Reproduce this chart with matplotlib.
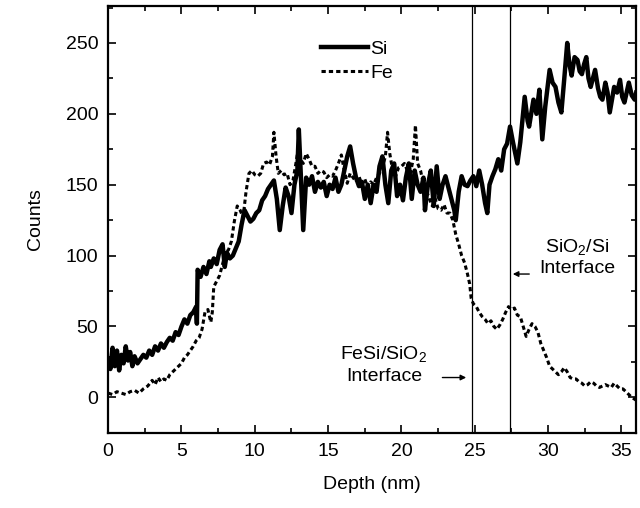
import matplotlib
matplotlib.use("Agg")
import matplotlib.pyplot as plt

plt.rcParams["font.family"] = ["Liberation Sans", "DejaVu Sans"]
plt.rcParams["mathtext.default"] = "regular"

# Si depth profile (solid)
si_depth = [0.0, 0.15, 0.3, 0.45, 0.6, 0.75, 0.9, 1.05, 1.2, 1.35, 1.5, 1.65, 1.8, 2.0, 2.2, 2.4,
            2.6, 2.8, 3.0, 3.2, 3.4, 3.6, 3.8, 4.0, 4.2, 4.4, 4.6, 4.8, 5.0, 5.2, 5.4, 5.6, 5.8,
            6.0, 6.05, 6.1, 6.3, 6.5, 6.7, 6.9, 7.0, 7.2, 7.4, 7.6, 7.8, 7.95, 8.1, 8.3, 8.5,
            8.7, 8.9, 9.1, 9.3, 9.5, 9.7, 9.9, 10.1, 10.3, 10.5, 10.7, 10.9, 11.1, 11.3, 11.5,
            11.7, 11.9, 12.1, 12.3, 12.5, 12.7, 12.9, 13.0, 13.1, 13.3, 13.5, 13.7, 13.9, 14.1,
            14.3, 14.5, 14.7, 14.9, 15.1, 15.3, 15.5, 15.7, 15.9, 16.1, 16.3, 16.5, 16.7, 16.9,
            17.1, 17.3, 17.5, 17.7, 17.9, 18.1, 18.3, 18.5, 18.7, 18.9, 19.1, 19.3, 19.5, 19.7,
            19.9, 20.1, 20.3, 20.5, 20.7, 20.9, 21.1, 21.3, 21.5, 21.6, 21.8, 22.0, 22.2, 22.4,
            22.6, 22.8, 23.0, 23.2, 23.4, 23.6, 23.7, 23.9, 24.1, 24.3, 24.5, 24.7, 24.9, 25.1,
            25.3, 25.5, 25.7, 25.85, 26.0, 26.2, 26.4, 26.6, 26.8, 27.0, 27.2, 27.4, 27.6, 27.9,
            28.1, 28.4, 28.6, 28.7, 29.0, 29.2, 29.4, 29.6, 29.8, 30.1, 30.3, 30.5, 30.7, 30.9,
            31.1, 31.3, 31.45, 31.6, 31.8, 32.0, 32.15, 32.3, 32.45, 32.6, 32.75, 32.9, 33.05,
            33.2, 33.4, 33.55, 33.7, 33.9, 34.05, 34.2, 34.35, 34.5, 34.7, 34.9, 35.05, 35.2,
            35.35, 35.5, 35.7, 35.9, 36.0]
si_counts = [27, 20, 35, 22, 33, 19, 30, 24, 36, 26, 32, 22, 29, 24, 27, 30,
             28, 33, 30, 36, 33, 38, 35, 39, 42, 40, 46, 44, 50, 55, 52, 58, 60,
             64, 52, 90, 85, 92, 87, 96, 92, 98, 94, 104, 108, 92, 102, 98, 100,
             105, 110, 122, 132, 128, 124, 126, 130, 132, 139, 142, 147, 150, 153, 140,
             118, 135, 148, 142, 130, 150, 160, 189, 165, 118, 155, 150, 156, 145,
             152, 148, 152, 142, 150, 147, 155, 145, 150, 160, 170, 177, 165, 155,
             149, 152, 140, 150, 137, 150, 145, 163, 170, 150, 137, 160, 165, 142,
             150, 139, 155, 165, 140, 160, 150, 145, 155, 132, 150, 160, 135, 163,
             140, 150, 156, 148, 140, 132, 125, 145, 156, 150, 149, 153, 156, 149,
             160, 150, 137, 130, 150, 156, 161, 168, 160, 175, 179, 191, 180, 165,
             180, 212, 195, 191, 210, 200, 217, 182, 205, 231, 222, 219, 208, 201,
             225, 250, 235, 227, 240, 238, 230, 228, 235, 240, 225, 219, 225,
             231, 218, 212, 210, 222, 215, 201, 210, 219, 215, 224, 212, 208,
             215, 222, 213, 210, 215]

# Fe depth profile (dashed)
fe_depth = [0.0, 0.3, 0.6, 0.9, 1.2, 1.5, 1.8, 2.1, 2.4, 2.7, 3.0, 3.2, 3.4, 3.6, 3.8, 4.0,
            4.2, 4.4, 4.6, 4.8, 5.0, 5.2, 5.4, 5.6, 5.8, 6.0, 6.2, 6.4, 6.6, 6.8, 7.0, 7.1,
            7.2, 7.4, 7.6, 7.8, 8.0, 8.2, 8.4, 8.6, 8.8, 9.0, 9.2, 9.4, 9.6, 9.8, 10.0, 10.2,
            10.4, 10.6, 10.8, 11.0, 11.2, 11.3, 11.45, 11.6, 11.8, 12.0, 12.2, 12.4, 12.6,
            12.8, 12.95, 13.1, 13.3, 13.5, 13.7, 13.9, 14.1, 14.3, 14.5, 14.7, 14.9, 15.1,
            15.3, 15.5, 15.7, 15.9, 16.1, 16.3, 16.5, 16.7, 16.9, 17.1, 17.3, 17.5, 17.7,
            17.9, 18.1, 18.3, 18.5, 18.7, 18.9, 19.05, 19.2, 19.4, 19.6, 19.8, 20.0, 20.2,
            20.4, 20.6, 20.8, 20.95, 21.1, 21.3, 21.5, 21.7, 21.9, 22.1, 22.3, 22.5, 22.7,
            22.9, 23.1, 23.3, 23.5, 23.7, 23.9, 24.1, 24.3, 24.5, 24.65, 24.75, 24.9, 25.1,
            25.3, 25.5, 25.7, 25.9, 26.1, 26.3, 26.5, 26.7, 26.9, 27.1, 27.3, 27.5, 27.7,
            27.9, 28.1, 28.3, 28.5, 28.7, 28.9, 29.1, 29.3, 29.5, 29.7, 29.9, 30.1, 30.3,
            30.5, 30.7, 30.9, 31.1, 31.3, 31.5, 31.7, 31.9, 32.1, 32.3, 32.5, 32.7, 32.9,
            33.1, 33.3, 33.5, 33.7, 33.9, 34.1, 34.3, 34.5, 34.7, 34.9, 35.1, 35.3, 35.5,
            35.7, 36.0]
fe_counts = [3, 2, 4, 3, 2, 4, 5, 3, 6, 8, 12, 9, 14, 11, 13, 12,
             16, 18, 20, 22, 24, 28, 30, 33, 36, 40, 42, 48, 60, 62, 53, 60,
             78, 82, 86, 94, 102, 104, 110, 124, 135, 132, 127, 145, 158, 160, 157, 156,
             158, 165, 166, 164, 170, 187, 170, 158, 160, 157, 158, 150, 153,
             165, 175, 168, 165, 172, 168, 163, 163, 158, 160, 159, 155, 157,
             156, 160, 165, 171, 160, 151, 158, 155, 152, 156, 150, 154, 148,
             152, 150, 155, 158, 162, 170, 187, 172, 160, 156, 162, 163, 165,
             160, 158, 168, 192, 165, 160, 150, 146, 140, 135, 140, 133, 132,
             136, 130, 130, 125, 115, 108, 100, 95, 87, 80, 70, 66, 64,
             60, 57, 55, 52, 54, 50, 48, 51, 55, 60, 64, 62, 63,
             58, 57, 50, 43, 48, 52, 50, 46, 38, 33, 28, 22, 20,
             18, 16, 18, 21, 18, 14, 13, 13, 11, 10, 8, 9, 11,
             10, 8, 7, 8, 9, 8, 7, 10, 8, 6, 6, 4, 2,
             0, -2]

interfaces = [24.8, 27.4]

fig = plt.figure(figsize=(6.4, 5.08), dpi=100)
ax = fig.add_axes([0.169, 0.148, 0.825, 0.840])

ax.plot(si_depth, si_counts, color="black", linewidth=3.2, label="Si")
ax.plot(fe_depth, fe_counts, color="black", linewidth=2.2,
        linestyle=(0, (1.4, 1.0)), label="Fe")
for xi in interfaces:
    ax.axvline(xi, color="black", linewidth=0.9)

ax.set_xlim(0, 36)
ax.set_ylim(-25, 276)
ax.set_xticks(range(0, 36, 5))
ax.set_xticks([2.5 + 5 * i for i in range(7)], minor=True)
ax.set_yticks(range(0, 251, 50))
ax.set_yticks(range(-25, 276, 50), minor=True)
ax.tick_params(which="both", direction="in", top=True, right=True, labelsize=14, width=1.2)
ax.tick_params(which="major", length=6, pad=7)
ax.tick_params(which="minor", length=3.5)
for s in ax.spines.values():
    s.set_linewidth(1.6)

ax.set_xlabel("Depth (nm)", fontsize=14, labelpad=12)
ax.set_ylabel("Counts", fontsize=14, labelpad=16)

ax.legend(loc="upper left", bbox_to_anchor=(0.37, 0.96), frameon=False,
          fontsize=14, handlelength=2.4, handletextpad=0.15, labelspacing=0.3)

ax.text(32.0, 99, "SiO$_2$/Si\nInterface", fontsize=14, ha="center",
        va="center", linespacing=1.3)
ax.annotate("", xy=(27.4, 87), xytext=(28.9, 87),
            arrowprops=dict(arrowstyle="-|>", color="black", lw=1, mutation_scale=8))
ax.text(18.8, 23, "FeSi/SiO$_2$\nInterface", fontsize=14, ha="center",
        va="center", linespacing=1.3)
ax.annotate("", xy=(24.6, 14), xytext=(22.6, 14),
            arrowprops=dict(arrowstyle="-|>", color="black", lw=1, mutation_scale=8))

fig.savefig("out.png", dpi=100)
